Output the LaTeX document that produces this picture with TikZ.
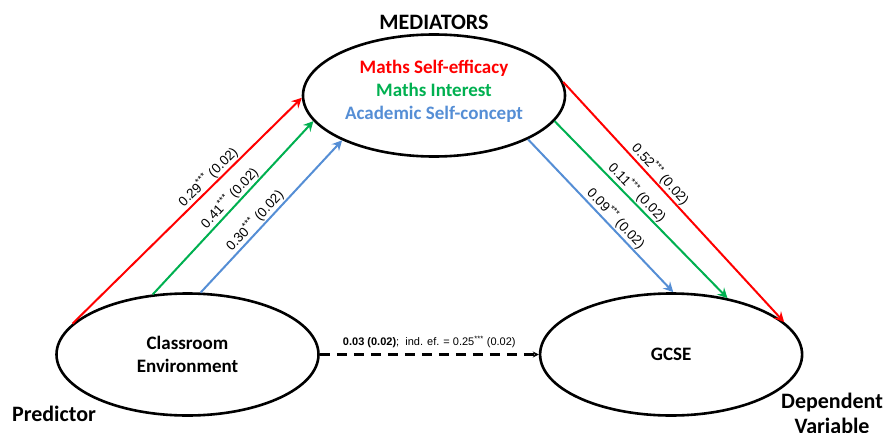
\documentclass[tikz,border=0pt]{standalone}
\usepackage{fontspec}
\setmainfont{Carlito}
\newfontfamily\coeffont{Liberation Sans}
\usetikzlibrary{shapes.geometric, positioning, arrows.meta}
\definecolor{effred}{RGB}{255,0,0}
\definecolor{intgreen}{RGB}{0,176,80}
\definecolor{conblue}{RGB}{85,142,213}
\tikzset{
>={Stealth[length=10pt, width=10pt, inset=3.5pt]}, % arrow heads of all paths
latent/.style={ellipse, draw, line width=2.6pt, minimum width=262pt, minimum height=122pt, inner sep=0pt}, % the three variables
heading/.style={font=\fontsize{22}{25}\selectfont\bfseries, align=center},
intext/.style={font=\fontsize{19}{23}\selectfont\bfseries, align=center},
medpath/.style={->, line width=2pt},
coef/.style={font=\coeffont\fontsize{13.5}{15}\selectfont, text=black, sloped, above, inner sep=1pt},
}

\begin{document}
\begin{tikzpicture}[x=1pt, y=-1pt]
    \useasboundingbox (0,0) rectangle (885,433);

    \node[latent, intext] (clas) at (187.5,354.5) {Classroom\\Environment};
    \node[latent, intext, right=219pt of clas] (gcse) {GCSE};
    \node[latent] (med) at (434,95.5) {};
    \node[intext] (medtext) at ([yshift=4pt]med.center) {\textcolor{effred}{Maths Self-efficacy}\\\textcolor{intgreen}{Maths Interest}\\\textcolor{conblue}{Academic Self-concept}};

    \node[heading, above=0pt of med] (medtitle) {MEDIATORS};
    \node[heading] (predictor) at (54,414) {Predictor};
    \node[heading] (dependent) at (832,413) {Dependent\\Variable};

    % predictor -> mediators
    \draw[medpath, effred] (clas.165.6) -- node[coef, pos=0.62] {0.29\textsuperscript{***} (0.02)} (med.181);
    \draw[medpath, intgreen] (clas.120) -- node[coef, pos=0.52] {0.41\textsuperscript{***} (0.02)} (med.192.8);
    \draw[medpath, conblue] (clas.78.5) -- node[coef, pos=0.43] {0.30\textsuperscript{***} (0.02)} (med.206.3);

    % mediators -> outcome
    \draw[medpath, effred] (med.6.1) -- node[coef, pos=0.41] {0.52\textsuperscript{***} (0.02)} (gcse.16.4);
    \draw[medpath, intgreen] (med.348.3) -- node[coef, pos=0.44] {0.11\textsuperscript{***} (0.02)} (gcse.45);
    \draw[medpath, conblue] (med.335.4) -- node[coef, pos=0.56] {0.09\textsuperscript{***} (0.02)} (gcse.88);

    % direct effect
    \draw[-{Stealth[length=6pt, width=6pt]}, line width=2.6pt, dash pattern=on 10pt off 7pt] (clas.east) -- node[above=2pt, font=\coeffont\fontsize{11}{13}\selectfont] {\textbf{0.03 (0.02)};\ \ ind. ef. = 0.25\textsuperscript{***} (0.02)} (gcse.west);
\end{tikzpicture}
\end{document}
